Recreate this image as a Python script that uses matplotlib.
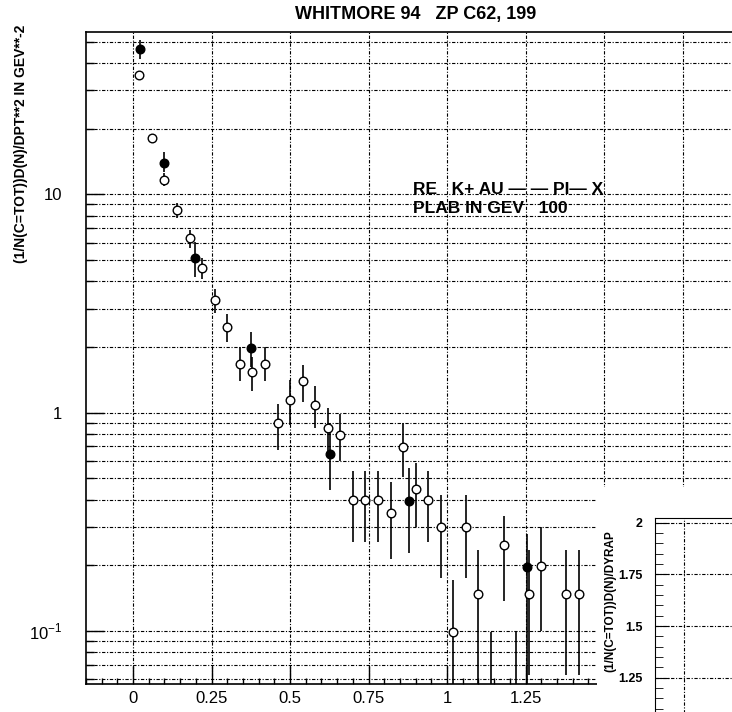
import numpy as np
import matplotlib
matplotlib.use("Agg")
import matplotlib.pyplot as plt
from matplotlib.patches import Rectangle
from matplotlib.ticker import FixedLocator, LogLocator, NullFormatter, MultipleLocator

plt.rcParams['font.family'] = ['Liberation Sans', 'DejaVu Sans']
plt.rcParams['mathtext.fontset'] = 'custom'
plt.rcParams['mathtext.rm'] = 'Liberation Sans'

# open points: pt, value, lower end, upper end of error bar
open_pt = [0.02, 0.06, 0.10, 0.14, 0.18, 0.22, 0.26, 0.30, 0.34, 0.38, 0.42, 0.46,
           0.50, 0.54, 0.58, 0.62, 0.66, 0.70, 0.74, 0.78, 0.82, 0.86, 0.90, 0.94,
           0.98, 1.02, 1.06, 1.10, 1.14, 1.18, 1.22, 1.26, 1.30, 1.38, 1.42]
open_val = [35.1, 18.1, 11.7, 8.5, 6.3, 4.6, 3.3, 2.48, 1.68, 1.54, 1.68, 0.893,
            1.14, 1.39, 1.09, 0.847, 0.789, 0.397, 0.397, 0.397, 0.347, 0.693, 0.446, 0.397,
            0.30, 0.099, 0.30, 0.148, 0.03, 0.248, 0.03, 0.148, 0.198, 0.148, 0.148]
open_lo = [34.0, 17.5, 10.9, 7.8, 5.67, 4.1, 2.85, 2.11, 1.39, 1.26, 1.39, 0.674,
           0.877, 1.12, 0.85, 0.66, 0.60, 0.256, 0.256, 0.256, 0.214, 0.508, 0.30, 0.256,
           0.174, 0.02, 0.174, 0.02, 0.02, 0.137, 0.02, 0.0626, 0.10, 0.0626, 0.0626]
open_hi = [36.3, 18.8, 12.5, 9.1, 6.9, 5.1, 3.7, 2.83, 1.99, 1.80, 1.99, 1.10,
           1.41, 1.65, 1.32, 1.046, 0.99, 0.54, 0.54, 0.54, 0.482, 0.893, 0.589, 0.54,
           0.419, 0.171, 0.419, 0.234, 0.099, 0.336, 0.099, 0.234, 0.30, 0.234, 0.234]

# filled points
full_pt = [0.023, 0.10, 0.198, 0.374, 0.626, 0.878, 1.255]
full_val = [46.4, 14.0, 5.1, 1.97, 0.65, 0.393, 0.196]
full_lo = [41.7, 12.7, 4.2, 1.62, 0.442, 0.228, 0.02]
full_hi = [51.2, 15.7, 6.07, 2.35, 0.83, 0.559, 0.277]

yticks = [0.1, 1, 10]
ytick_labels = ['$10^{-1}$', '1', '10']
xticks = [0, 0.25, 0.5, 0.75, 1.0, 1.25, 1.5, 1.75]
xtick_labels = ['0', '0.25', '0.5', '0.75', '1', '1.25', '', '']
inset_ticks = [1.25, 1.5, 1.75, 2.0]
inset_labels = ['1.25', '1.5', '1.75', '2']

W, H = 732, 712
fig = plt.figure(figsize=(W / 100, H / 100), dpi=100)

gls = (0, (3, 1.5, 1, 1.5))

ax = fig.add_axes([86 / W, 1 - 684 / H, 675 / W, (684 - 31.7) / H])
ax.set_yscale('log')
ax.set_xlim(-0.15, 2.0)
ax.set_ylim(0.0571, 55.7)

def draw(pt, val, lo, hi, face):
    val = np.array(val)
    err = [val - np.array(lo), np.array(hi) - val]
    ax.errorbar(pt, val, yerr=err, fmt='o', ms=6.2, mfc=face, mec='black', mew=1.0,
                ecolor='black', elinewidth=1.2, capsize=0, zorder=3)

draw(open_pt, open_val, open_lo, open_hi, 'white')
draw(full_pt, full_val, full_lo, full_hi, 'black')

ax.xaxis.set_major_locator(FixedLocator(xticks))
ax.set_xticklabels(xtick_labels, fontsize=12)
ax.xaxis.set_minor_locator(MultipleLocator(0.05))
ax.set_yticks(yticks)
ax.set_yticklabels(ytick_labels, fontsize=12)
ax.yaxis.set_minor_locator(LogLocator(base=10, subs=np.arange(2, 10)))
ax.yaxis.set_minor_formatter(NullFormatter())
ax.tick_params(which='major', direction='in', length=13, width=1, pad=5)
ax.tick_params(axis='y', which='major', pad=17)
ax.tick_params(which='minor', direction='in', length=4, width=1)
ax.tick_params(axis='y', which='minor', length=6)
ax.grid(True, axis='x', which='major', ls=gls, lw=0.8, color='black')
ax.grid(True, axis='y', which='both', ls=gls, lw=0.8, color='black')
for s in ax.spines.values():
    s.set_linewidth(1.2)

fig.text(416 / W, 1 - 15 / H, 'WHITMORE 94   ZP C62, 199', ha='center', va='center',
         fontsize=13, fontweight='bold')
fig.text(21 / W, 1 - 25 / H, '(1/N(C=TOT))D(N)/DPT**2 IN GEV**-2', rotation=90,
         ha='center', va='top', fontsize=10, fontweight='bold')
ax.text(413 / W, 1 - 189 / H, 'RE   K+ AU \u2014 \u2014 PI\u2014 X', transform=fig.transFigure,
        ha='left', va='center', fontsize=12.5, fontweight='bold')
ax.text(413 / W, 1 - 208 / H, 'PLAB IN GEV   100', transform=fig.transFigure,
        ha='left', va='center', fontsize=12.5, fontweight='bold')

# second plot overlapping the lower right corner
fig.add_artist(Rectangle((597 / W, 0), 1, 1 - 487 / H, transform=fig.transFigure,
                         facecolor='white', edgecolor='none', zorder=1))
ins = fig.add_axes([655 / W, 1 - 730 / H, 145 / W, (730 - 517.7) / H], zorder=2)
ins.set_xlim(0, 1)
ins.set_ylim(2 - (730 - 522.7) / 51.7 * 0.25, 2 + 5 / 51.7 * 0.25)
ins.set_xticks([0.2])
ins.set_xticklabels([])
ins.set_yticks(inset_ticks)
ins.set_yticklabels(inset_labels, fontsize=9, fontweight='bold')
ins.yaxis.set_minor_locator(MultipleLocator(0.05))
ins.tick_params(which='major', direction='in', length=10, pad=9)
ins.tick_params(which='minor', direction='in', length=6)
ins.grid(True, which='major', ls=gls, lw=0.8, color='black')
fig.text(610 / W, 1 - 601 / H, '(1/N(C=TOT))D(N)/DYRAP', rotation=90,
         ha='center', va='center', fontsize=8.5, fontweight='bold')

fig.savefig('out.png', dpi=100)
